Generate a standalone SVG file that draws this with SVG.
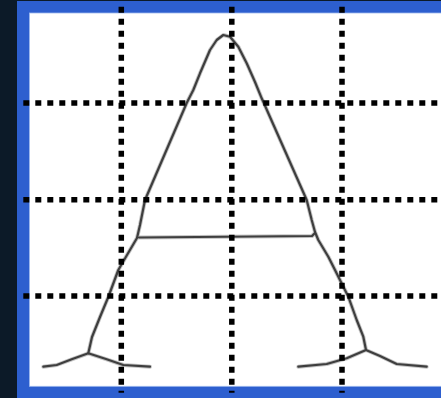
<svg xmlns="http://www.w3.org/2000/svg" width="441" height="398" viewBox="0 0 441 398">
  <style>
    .grid { stroke: #000; stroke-width: 5.5; stroke-dasharray: 6 6; fill: none; }
    .halo { stroke: #c4c4c4; stroke-width: 4; fill: none; stroke-linejoin: round; stroke-linecap: round; }
    .ink { stroke: #3e3e3e; stroke-width: 2.2; fill: none; stroke-linejoin: round; stroke-linecap: round; }
  </style>
  <defs>
    <g id="letter">
      <path d="M88.3,353.3 L92,337 L100,317 L108.3,297 L118.3,270 L127,255 L137,238 L140,225 L145,200 L186.7,103 L193.3,90 L200,73.3 L210,50 L216.7,40 L223.3,35 L230,36.7 L238.3,46.7 L246.7,63.3 L255,82 L261.7,98.3 L306.7,200 L311.7,220 L315,232 L318.3,240 L328.3,256.7 L335,270 L348.3,296.7 L356.7,320 L363.3,336.7 L366,350"/>
      <path d="M43.3,366.7 L56.7,365 L71.7,359.3 L88.3,353.3 L106.7,359.3 L123.3,365 L150,366.7"/>
      <path d="M298.3,366.7 L326.7,364 L346.7,358.3 L366,350 L380,356 L396.7,364 L426.7,366.7"/>
      <path d="M139,237.5 L312,236 L315,233"/>
    </g>
  </defs>
  <rect x="0" y="0" width="441" height="398" fill="#0c1a28"/>
  <rect x="17" y="1" width="430" height="405" fill="#2d5fcf"/>
  <rect x="29.5" y="13" width="420" height="373.3" fill="#ffffff" stroke="#9db8ee" stroke-width="0.8"/>
  <g id="letter-A">
    <use href="#letter" class="halo"/>
    <use href="#letter" class="ink"/>
  </g>
  <g id="grid">
    <line class="grid" x1="121.3" y1="6.7" x2="121.3" y2="392.7"/>
    <line class="grid" x1="231.8" y1="6.7" x2="231.8" y2="392.7"/>
    <line class="grid" x1="342" y1="6.7" x2="342" y2="392.7"/>
    <line class="grid" x1="23.3" y1="103" x2="441" y2="103"/>
    <line class="grid" x1="23.3" y1="199.7" x2="441" y2="199.7"/>
    <line class="grid" x1="23.3" y1="296" x2="441" y2="296"/>
  </g>
</svg>
